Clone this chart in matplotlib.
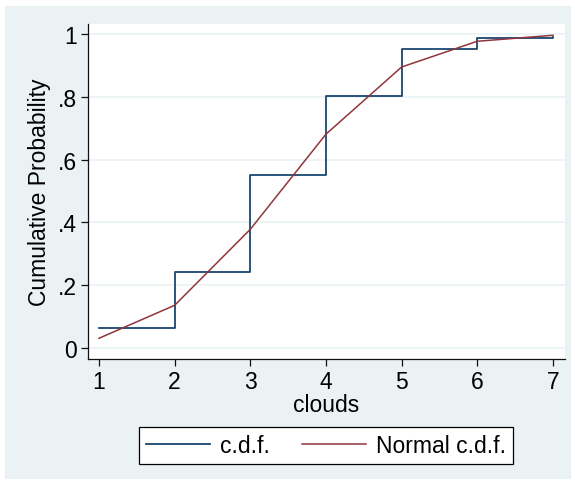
import matplotlib
matplotlib.use("Agg")
import matplotlib.pyplot as plt
from matplotlib.patches import Rectangle

plt.rcParams['font.family'] = ['Liberation Sans', 'DejaVu Sans']

clouds = [1, 2, 3, 4, 5, 6, 7]
cdf = [0.065, 0.242, 0.551, 0.802, 0.952, 0.988, 0.990]
normal_cdf = [0.031, 0.136, 0.378, 0.681, 0.895, 0.977, 0.996]
yticks = [0, 0.2, 0.4, 0.6, 0.8, 1.0]
yticklabels = ['0', '.2', '.4', '.6', '.8', '1']

W, H = 575, 485
fig = plt.figure(figsize=(W / 100, H / 100), dpi=100)
fig.patch.set_facecolor('white')

bg = '#EAF2F3'
fig.patches.append(Rectangle((5 / W, 1 - 480 / H), (571 - 5) / W, (480 - 7) / H,
                             transform=fig.transFigure, facecolor=bg, edgecolor='none', zorder=-10))

ax = fig.add_axes([88 / W, 1 - 360 / H, (565 - 88) / W, (360 - 25) / H])
ax.set_facecolor('white')

blue = '#1A476F'
red = '#90353B'

ax.step(clouds, cdf, where='post', color=blue, lw=1.3, label='c.d.f.', zorder=3)
ax.plot(clouds, normal_cdf, color=red, lw=1.1, label='Normal c.d.f.', zorder=4)

ax.set_xlim(0.855, 7.16)
ax.set_ylim(-0.035, 1.032)
ax.set_xticks(clouds)
ax.set_xticklabels([str(c) for c in clouds])
ax.set_yticks(yticks)
ax.set_yticklabels(yticklabels)

for y in yticks:
    ax.axhline(y, color=bg, lw=1.2, zorder=1)

for s in ['top', 'right']:
    ax.spines[s].set_visible(False)
for s in ['left', 'bottom']:
    ax.spines[s].set_color('#111111')
    ax.spines[s].set_linewidth(0.9)

fs = 16.5
ax.tick_params(axis='both', direction='out', length=5, width=0.9, color='#111111',
               labelsize=fs, pad=3)
ax.set_xlabel('clouds', fontsize=fs, labelpad=0)
ax.set_ylabel('Cumulative Probability', fontsize=fs, labelpad=5)

leg = fig.legend(loc='center', bbox_to_anchor=((139 + 513) / 2 / W, 1 - (428 + 465) / 2 / H),
                 ncol=2, fontsize=fs, frameon=True, fancybox=False,
                 edgecolor='black', facecolor='white', framealpha=1,
                 handlelength=2.8, handletextpad=0.44, columnspacing=1.38,
                 borderpad=0.32)
leg.get_frame().set_linewidth(0.9)

fig.savefig('out.png', dpi=100, facecolor='white')
